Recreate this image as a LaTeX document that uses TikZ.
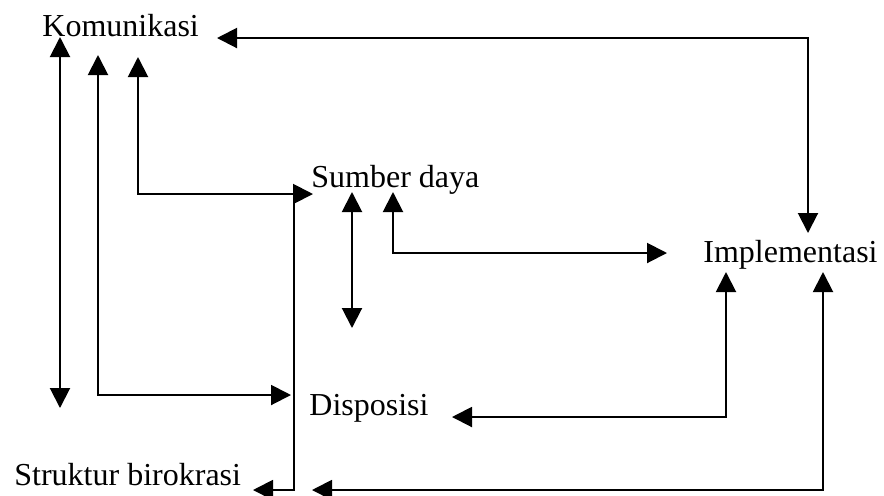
\documentclass[tikz,border=0pt]{standalone}
\usepackage{fontspec}
\setmainfont{Liberation Serif}
\usetikzlibrary{arrows.meta}
\begin{document}
\begin{tikzpicture}[
  x=0.5pt, y=-0.5pt,
  label text/.style={inner sep=0pt, anchor=base west, font=\fontsize{16}{19}\selectfont},
  link/.style={line width=1pt, {Triangle[length=10pt,width=10pt]}-{Triangle[length=10pt,width=10pt]}},
  oneway/.style={line width=1pt, -{Triangle[length=10pt,width=10pt]}}
]
\useasboundingbox (0,0) rectangle (884,495);

% factor labels
\node[label text] (kom) at (42,36)  {Komunikasi};
\node[label text] (sd)  at (311,187) {Sumber daya};
\node[label text] (imp) at (703,262) {Implementasi};
\node[label text] (dis) at (309,415) {Disposisi};
\node[label text] (sb)  at (14,485)  {Struktur birokrasi};

% connector ports
\coordinate (kom-1) at (60,37);
\coordinate (kom-2) at (98,55);
\coordinate (kom-3) at (138,57);
\coordinate (kom-4) at (217,38);
\coordinate (sd-1)  at (313,194);
\coordinate (sd-2)  at (352,192);
\coordinate (sd-3)  at (393,192);
\coordinate (sd-4)  at (294,194);
\coordinate (imp-1) at (667,253);
\coordinate (imp-2) at (808,233);
\coordinate (imp-3) at (726,272);
\coordinate (imp-4) at (823,272);
\coordinate (dis-1) at (291,395);
\coordinate (dis-2) at (352,328);
\coordinate (dis-3) at (452,417);
\coordinate (sb-1)  at (60,408);
\coordinate (sb-2)  at (253,490);
\coordinate (sb-3)  at (312,490);

% relations between the factors
\draw[link] (kom-1) -- (sb-1);
\draw[link] (kom-2) |- (dis-1);
\draw[link] (kom-3) |- (sd-1);
\draw[link] (kom-4) -| (imp-2);
\draw[link] (sd-2) -- (dis-2);
\draw[link] (sd-3) |- (imp-1);
\draw[oneway] (sd-4) |- (sb-2);
\draw[link] (dis-3) -| (imp-3);
\draw[link] (sb-3) -| (imp-4);
\end{tikzpicture}
\end{document}
